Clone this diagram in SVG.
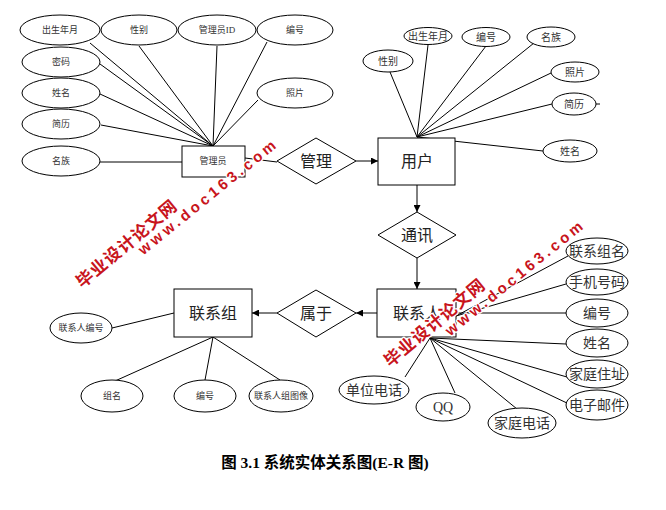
<svg xmlns="http://www.w3.org/2000/svg" width="666" height="510" viewBox="0 0 666 510">
<defs>
<marker id="arr" viewBox="0 0 10 10" refX="10" refY="5" markerWidth="7" markerHeight="7" orient="auto" markerUnits="userSpaceOnUse">
<path d="M0,0 L10,5 L0,10 z" fill="#000"/>
</marker>
<style>
.s{fill:#fff;stroke:#000;stroke-width:1}
.l{stroke:#000;stroke-width:1;fill:none}
.t{font-family:"Liberation Serif","Noto Sans CJK SC",serif;fill:#333;text-anchor:middle;dominant-baseline:central}
.xs{font-size:9px}
.sm{font-size:10px}
.md{font-size:14px}
.lg{font-size:16px;fill:#222}
.wm{font-family:"Liberation Sans","Noto Sans CJK SC",sans-serif;font-weight:bold;fill:#c8141c;stroke:#fff;stroke-width:2.5px;paint-order:stroke;stroke-linejoin:round;text-anchor:middle;dominant-baseline:central}
</style>
</defs>
<rect width="666" height="510" fill="#fff"/>

<g id="connectors">
<line class="l" x1="90" y1="43" x2="213" y2="146"/>
<line class="l" x1="100" y1="64" x2="213" y2="146"/>
<line class="l" x1="100" y1="94" x2="213" y2="146"/>
<line class="l" x1="101" y1="125" x2="213" y2="146"/>
<line class="l" x1="100" y1="162" x2="182" y2="162"/>
<line class="l" x1="139" y1="46" x2="213" y2="146"/>
<line class="l" x1="217" y1="46" x2="213" y2="146"/>
<line class="l" x1="267" y1="42" x2="213" y2="146"/>
<line class="l" x1="258" y1="100" x2="213" y2="146"/>
<line class="l" x1="245" y1="158" x2="277" y2="162"/>
<line class="l" x1="356" y1="161" x2="378" y2="161" marker-end="url(#arr)"/>
<line class="l" x1="390" y1="72" x2="417" y2="137"/>
<line class="l" x1="428" y1="45" x2="417" y2="137"/>
<line class="l" x1="486" y1="46" x2="417" y2="137"/>
<line class="l" x1="534" y1="43" x2="417" y2="137"/>
<line class="l" x1="551" y1="73" x2="417" y2="137"/>
<line class="l" x1="552" y1="104" x2="417" y2="137"/>
<line class="l" x1="543" y1="151" x2="417" y2="137"/>
<line class="l" x1="596" y1="104" x2="600" y2="104"/>
<line class="l" x1="417" y1="185" x2="417" y2="212" marker-end="url(#arr)"/>
<line class="l" x1="417" y1="258" x2="417" y2="289" marker-end="url(#arr)"/>
<line class="l" x1="377" y1="313" x2="356" y2="313" marker-end="url(#arr)"/>
<line class="l" x1="277" y1="313" x2="252" y2="313" marker-end="url(#arr)"/>
<line class="l" x1="112" y1="328" x2="174" y2="313"/>
<line class="l" x1="213" y1="337" x2="115" y2="381"/>
<line class="l" x1="213" y1="337" x2="205" y2="380"/>
<line class="l" x1="213" y1="337" x2="280" y2="380"/>
<line class="l" x1="456" y1="316" x2="568" y2="256"/>
<line class="l" x1="456" y1="316" x2="566" y2="284"/>
<line class="l" x1="456" y1="313" x2="566" y2="313"/>
<line class="l" x1="430" y1="338" x2="566" y2="344"/>
<line class="l" x1="430" y1="338" x2="567" y2="377"/>
<line class="l" x1="430" y1="338" x2="569" y2="404"/>
<line class="l" x1="430" y1="338" x2="517" y2="409"/>
<line class="l" x1="430" y1="338" x2="455" y2="393"/>
<line class="l" x1="430" y1="338" x2="405" y2="377"/>
</g>

<g id="admin"><rect class="s" x="182" y="146" width="63" height="31"/><text class="t xs" x="213" y="161">管理员</text></g>
<g id="a-birth"><ellipse class="s" cx="60" cy="30" rx="40" ry="15"/><text class="t xs" x="60" y="30">出生年月</text></g>
<g id="a-sex"><ellipse class="s" cx="139" cy="30" rx="38" ry="15"/><text class="t xs" x="139" y="30">性别</text></g>
<g id="a-id"><ellipse class="s" cx="217" cy="30" rx="39" ry="15"/><text class="t xs" x="217" y="30">管理员ID</text></g>
<g id="a-no"><ellipse class="s" cx="295" cy="30" rx="38" ry="15"/><text class="t xs" x="295" y="30">编号</text></g>
<g id="a-pwd"><ellipse class="s" cx="61" cy="62" rx="39" ry="15"/><text class="t xs" x="61" y="62">密码</text></g>
<g id="a-name"><ellipse class="s" cx="61" cy="93" rx="39" ry="15"/><text class="t xs" x="61" y="93">姓名</text></g>
<g id="a-resume"><ellipse class="s" cx="61" cy="124" rx="39" ry="15"/><text class="t xs" x="61" y="124">简历</text></g>
<g id="a-nation"><ellipse class="s" cx="61" cy="161" rx="39" ry="15"/><text class="t xs" x="61" y="161">名族</text></g>
<g id="a-photo"><ellipse class="s" cx="295" cy="93" rx="38" ry="15"/><text class="t xs" x="295" y="93">照片</text></g>

<g id="manage"><polygon class="s" points="277,161 316,138 356,161 316,184"/><text class="t lg" x="316" y="161">管理</text></g>

<g id="user"><rect class="s" x="378" y="138" width="77" height="47"/><text class="t lg" x="417" y="161">用户</text></g>
<g id="u-sex"><ellipse class="s" cx="388" cy="61" rx="25" ry="11"/><text class="t sm" x="388" y="61">性别</text></g>
<g id="u-birth"><ellipse class="s" cx="428" cy="36" rx="24" ry="8.5"/><text class="t sm" x="428" y="36">出生年月</text></g>
<g id="u-no"><ellipse class="s" cx="486" cy="37" rx="24" ry="9.5"/><text class="t sm" x="486" y="37">编号</text></g>
<g id="u-nation"><ellipse class="s" cx="551" cy="37" rx="24" ry="10"/><text class="t sm" x="551" y="37">名族</text></g>
<g id="u-photo"><ellipse class="s" cx="575" cy="72" rx="24" ry="10"/><text class="t sm" x="575" y="72">照片</text></g>
<g id="u-resume"><ellipse class="s" cx="574" cy="104" rx="22" ry="11"/><text class="t sm" x="574" y="104">简历</text></g>
<g id="u-name"><ellipse class="s" cx="570" cy="151" rx="27" ry="11"/><text class="t sm" x="570" y="151">姓名</text></g>

<g id="comm"><polygon class="s" points="378,235 417,212 456,235 417,258"/><text class="t lg" x="417" y="235">通讯</text></g>

<g id="contact"><rect class="s" x="377" y="289" width="79" height="48"/><text class="t lg" x="417" y="313">联系人</text></g>
<g id="c-group"><ellipse class="s" cx="597" cy="251" rx="31" ry="13"/><text class="t md" x="597" y="251">联系组名</text></g>
<g id="c-phone"><ellipse class="s" cx="597" cy="282" rx="31" ry="13"/><text class="t md" x="597" y="282">手机号码</text></g>
<g id="c-no"><ellipse class="s" cx="597" cy="313" rx="31" ry="14"/><text class="t md" x="597" y="313">编号</text></g>
<g id="c-name"><ellipse class="s" cx="597" cy="343" rx="31" ry="14"/><text class="t md" x="597" y="343">姓名</text></g>
<g id="c-addr"><ellipse class="s" cx="597" cy="374" rx="31" ry="14"/><text class="t md" x="597" y="374">家庭住址</text></g>
<g id="c-mail"><ellipse class="s" cx="597" cy="405" rx="31" ry="15"/><text class="t md" x="597" y="405">电子邮件</text></g>
<g id="c-work"><ellipse class="s" cx="374" cy="390" rx="35" ry="14"/><text class="t md" x="374" y="390">单位电话</text></g>
<g id="c-qq"><ellipse class="s" cx="443" cy="407" rx="27" ry="14"/><text class="t md" x="443" y="407">QQ</text></g>
<g id="c-home"><ellipse class="s" cx="522" cy="423" rx="34" ry="15"/><text class="t md" x="522" y="423">家庭电话</text></g>

<g id="belong"><polygon class="s" points="277,313 316,290 356,313 316,337"/><text class="t lg" x="316" y="313">属于</text></g>

<g id="group"><rect class="s" x="174" y="289" width="78" height="48"/><text class="t lg" x="213" y="313">联系组</text></g>
<g id="g-cno"><ellipse class="s" cx="81" cy="328" rx="31" ry="15"/><text class="t xs" x="81" y="328">联系人编号</text></g>
<g id="g-name"><ellipse class="s" cx="112" cy="396" rx="31" ry="16"/><text class="t xs" x="112" y="396">组名</text></g>
<g id="g-no"><ellipse class="s" cx="205" cy="396" rx="31" ry="16"/><text class="t xs" x="205" y="396">编号</text></g>
<g id="g-img"><ellipse class="s" cx="281" cy="396" rx="32" ry="16"/><text class="t xs" x="281" y="396">联系人组图像</text></g>

<text x="325" y="462" style="font-family:'Liberation Serif','Noto Sans CJK SC',serif;font-size:15.5px;font-weight:bold;fill:#000;text-anchor:middle;dominant-baseline:central">图 3.1 系统实体关系图(E-R 图)</text>

<g id="watermark1">
<text class="wm" transform="translate(127,244) rotate(-40)" style="font-size:17px;letter-spacing:1px">毕业设计论文网</text>
<text class="wm" transform="translate(208,196) rotate(-39)" style="font-size:15px;letter-spacing:3.6px">www.doc163.com</text>
</g>
<g id="watermark2">
<text class="wm" transform="translate(435,323) rotate(-40)" style="font-size:17px;letter-spacing:1px">毕业设计论文网</text>
<text class="wm" transform="translate(515,277) rotate(-39)" style="font-size:15px;letter-spacing:3.6px">www.doc163.com</text>
</g>
</svg>
